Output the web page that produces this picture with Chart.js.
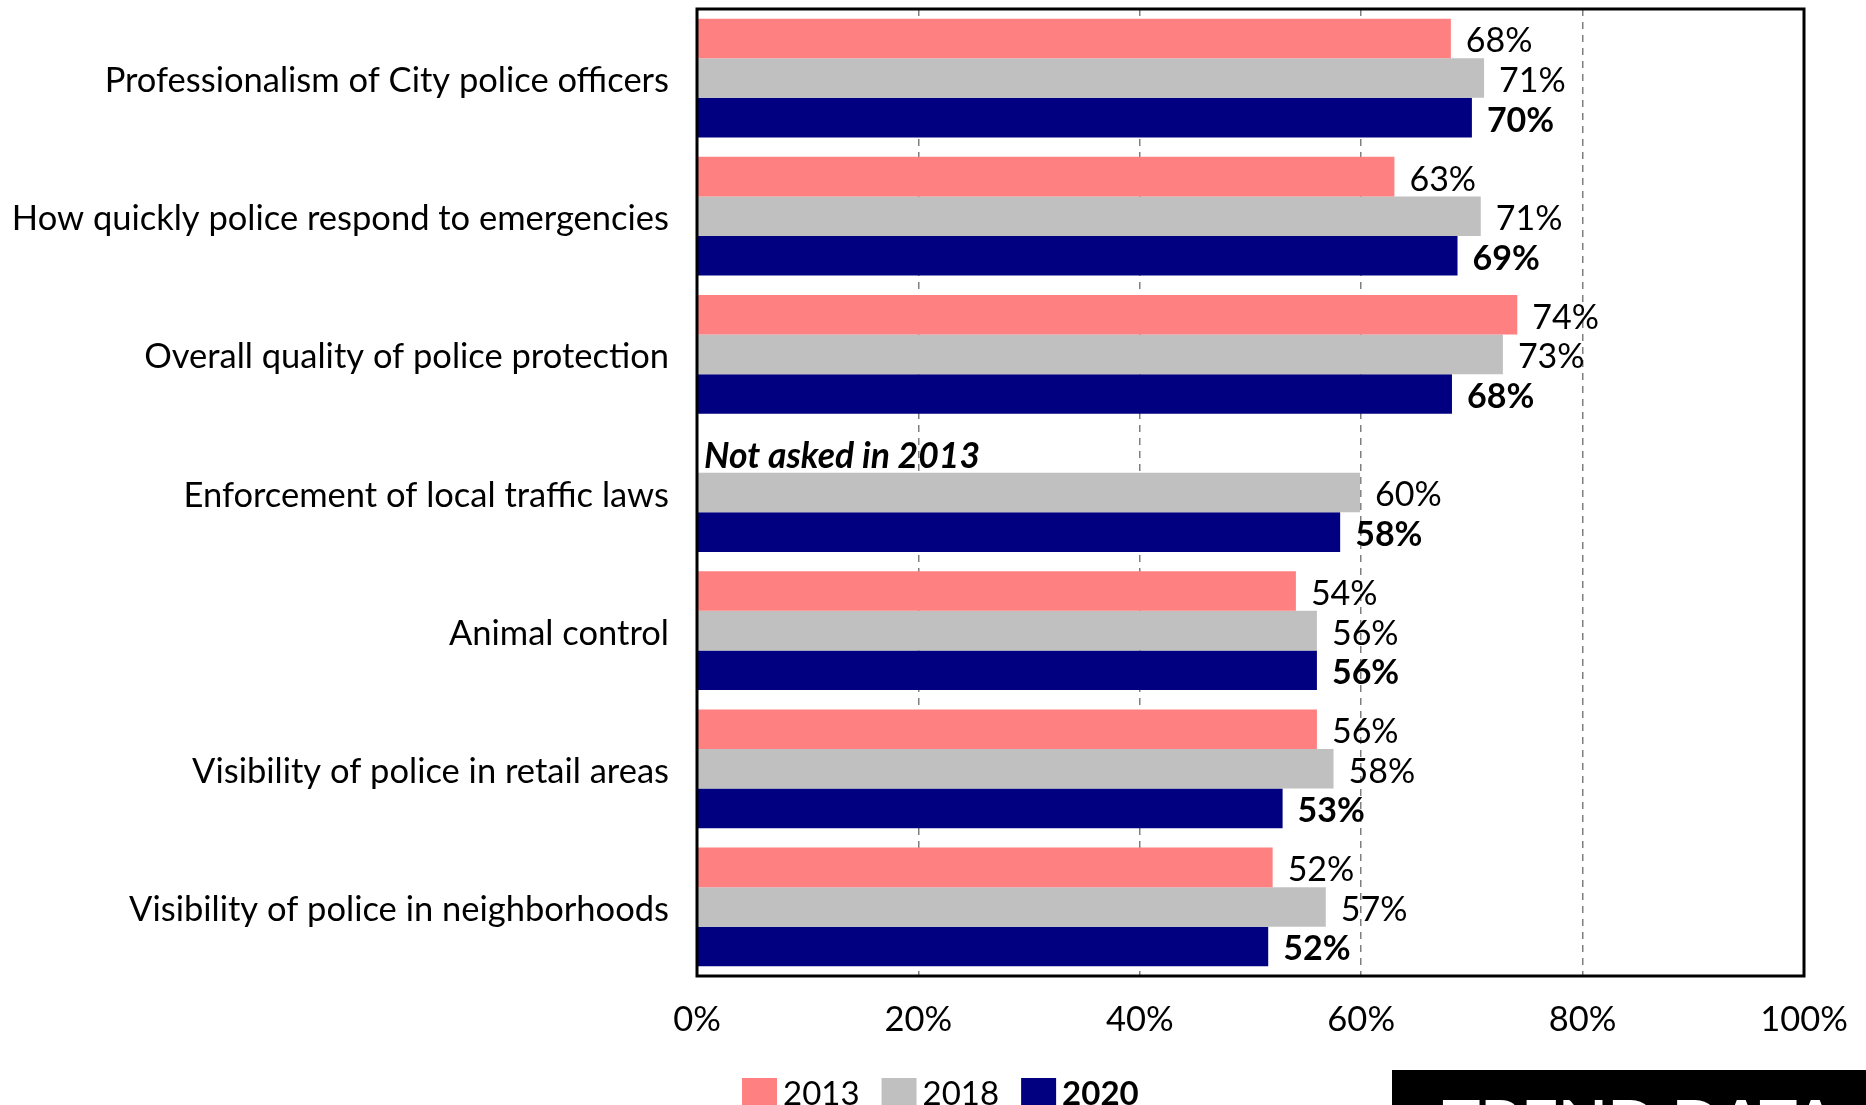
<!DOCTYPE html>
<html lang="en">
<head>
  <meta charset="UTF-8">
  <title>Police Services Trend</title>
  <script src="https://cdn.jsdelivr.net/npm/chart.js"></script>
  <style>
    html, body { margin: 0; padding: 0; background: #fff; overflow: hidden; }
    .wrap { position: relative; width: 1866px; height: 1105px; }
    .trend-box {
      position: absolute; left: 1392px; top: 1070px; width: 474px; height: 35px;
      background: #000; overflow: hidden;
    }
    .trend-box span {
      position: absolute; left: 50px; top: 20px;
      font: bold 64px Lato, sans-serif; color: #fff; line-height: 1; white-space: nowrap;
    }
  </style>
</head>
<body>
  <div class="wrap">
    <canvas id="trendChart" width="1866" height="1105"></canvas>
    <div class="trend-box"><span>TREND DATA</span></div>
  </div>

<script>
  // chart data
  const categories = [
    'Professionalism of City police officers',
    'How quickly police respond to emergencies',
    'Overall quality of police protection',
    'Enforcement of local traffic laws',
    'Animal control',
    'Visibility of police in retail areas',
    'Visibility of police in neighborhoods'
  ];
  const years = ['2013', '2018', '2020'];
  const values2013 = [68.1, 63.0, 74.1, null, 54.1, 56.0, 52.0];
  const values2018 = [71.1, 70.8, 72.8, 59.9, 56.0, 57.5, 56.8];
  const values2020 = [70.0, 68.7, 68.2, 58.1, 56.0, 52.9, 51.6];
  const xTicks = [0, 20, 40, 60, 80, 100];
  const missingNote = 'Not asked in 2013';

  const colors = ['#FF8080', '#C0C0C0', '#000080'];
  const FONT = 'Lato, "Open Sans", sans-serif';
  const FS = 34.5;

  // border, value labels, "not asked" note, legend
  const extras = {
    id: 'extras',
    afterDatasetsDraw(chart) {
      const ctx = chart.ctx;
      const area = chart.chartArea;
      const yScale = chart.scales.y;

      ctx.save();
      ctx.strokeStyle = '#000';
      ctx.lineWidth = 3;
      ctx.strokeRect(area.left, area.top, area.right - area.left, area.bottom - area.top);

      ctx.fillStyle = '#000';
      ctx.textBaseline = 'middle';
      ctx.textAlign = 'left';
      chart.data.datasets.forEach((ds, di) => {
        const meta = chart.getDatasetMeta(di);
        const labelFont = (di === 2 ? 'bold ' : '') + '34px ' + FONT;
        meta.data.forEach((bar, i) => {
          const v = ds.data[i];
          if (v === null) {
            const off = meta.data[0].y - yScale.getPixelForValue(0);
            const y = yScale.getPixelForValue(i) + off;
            ctx.font = 'italic bold 35.5px ' + FONT;
            ctx.fillText(missingNote, area.left + 7, y + 4);
            return;
          }
          ctx.font = labelFont;
          ctx.fillText(Math.round(v) + '%', bar.x + 15, bar.y + 3);
        });
      });

      // legend
      let x = 742;
      const top = 1078;
      chart.data.datasets.forEach((ds, di) => {
        ctx.fillStyle = ds.backgroundColor;
        ctx.fillRect(x, top, 35, 28);
        x += 41;
        ctx.fillStyle = '#000';
        ctx.font = (di === 2 ? 'bold ' : '') + '33px ' + FONT;
        ctx.fillText(ds.label, x, top + 16);
        x += ctx.measureText(ds.label).width + 22;
      });
      ctx.restore();
    }
  };

  new Chart(document.getElementById('trendChart'), {
    type: 'bar',
    data: {
      labels: categories,
      datasets: [
        { label: years[0], data: values2013, backgroundColor: colors[0] },
        { label: years[1], data: values2018, backgroundColor: colors[1] },
        { label: years[2], data: values2020, backgroundColor: colors[2] }
      ]
    },
    options: {
      indexAxis: 'y',
      responsive: false,
      animation: false,
      categoryPercentage: 0.86,
      barPercentage: 1.0,
      layout: { padding: { top: 9, right: 62, left: 0, bottom: 0 } },
      plugins: {
        legend: { display: false },
        tooltip: { enabled: false }
      },
      scales: {
        x: {
          min: 0,
          max: 100,
          afterBuildTicks(scale) { scale.ticks = xTicks.map(v => ({ value: v })); },
          afterFit(scale) {
            scale.height = 129;
            scale.paddingLeft = 0;
            scale.paddingRight = 0;
          },
          ticks: {
            padding: 23,
            color: '#000',
            font: { family: FONT, size: FS },
            callback: v => v + '%'
          },
          grid: {
            drawTicks: false,
            lineWidth: 1.5,
            color: c => (c.tick && (c.tick.value === 0 || c.tick.value === 100)) ? 'rgba(0,0,0,0)' : '#7f7f7f'
          },
          border: { display: false, dash: [7, 6] }
        },
        y: {
          afterFit(scale) {
            scale.width = 697;
            scale.paddingTop = 0;
            scale.paddingBottom = 0;
          },
          ticks: {
            padding: 28,
            labelOffset: 3,
            color: '#000',
            font: { family: FONT, size: FS }
          },
          grid: { display: false, drawTicks: false },
          border: { display: false }
        }
      }
    },
    plugins: [extras]
  });
</script>
</body>
</html>
